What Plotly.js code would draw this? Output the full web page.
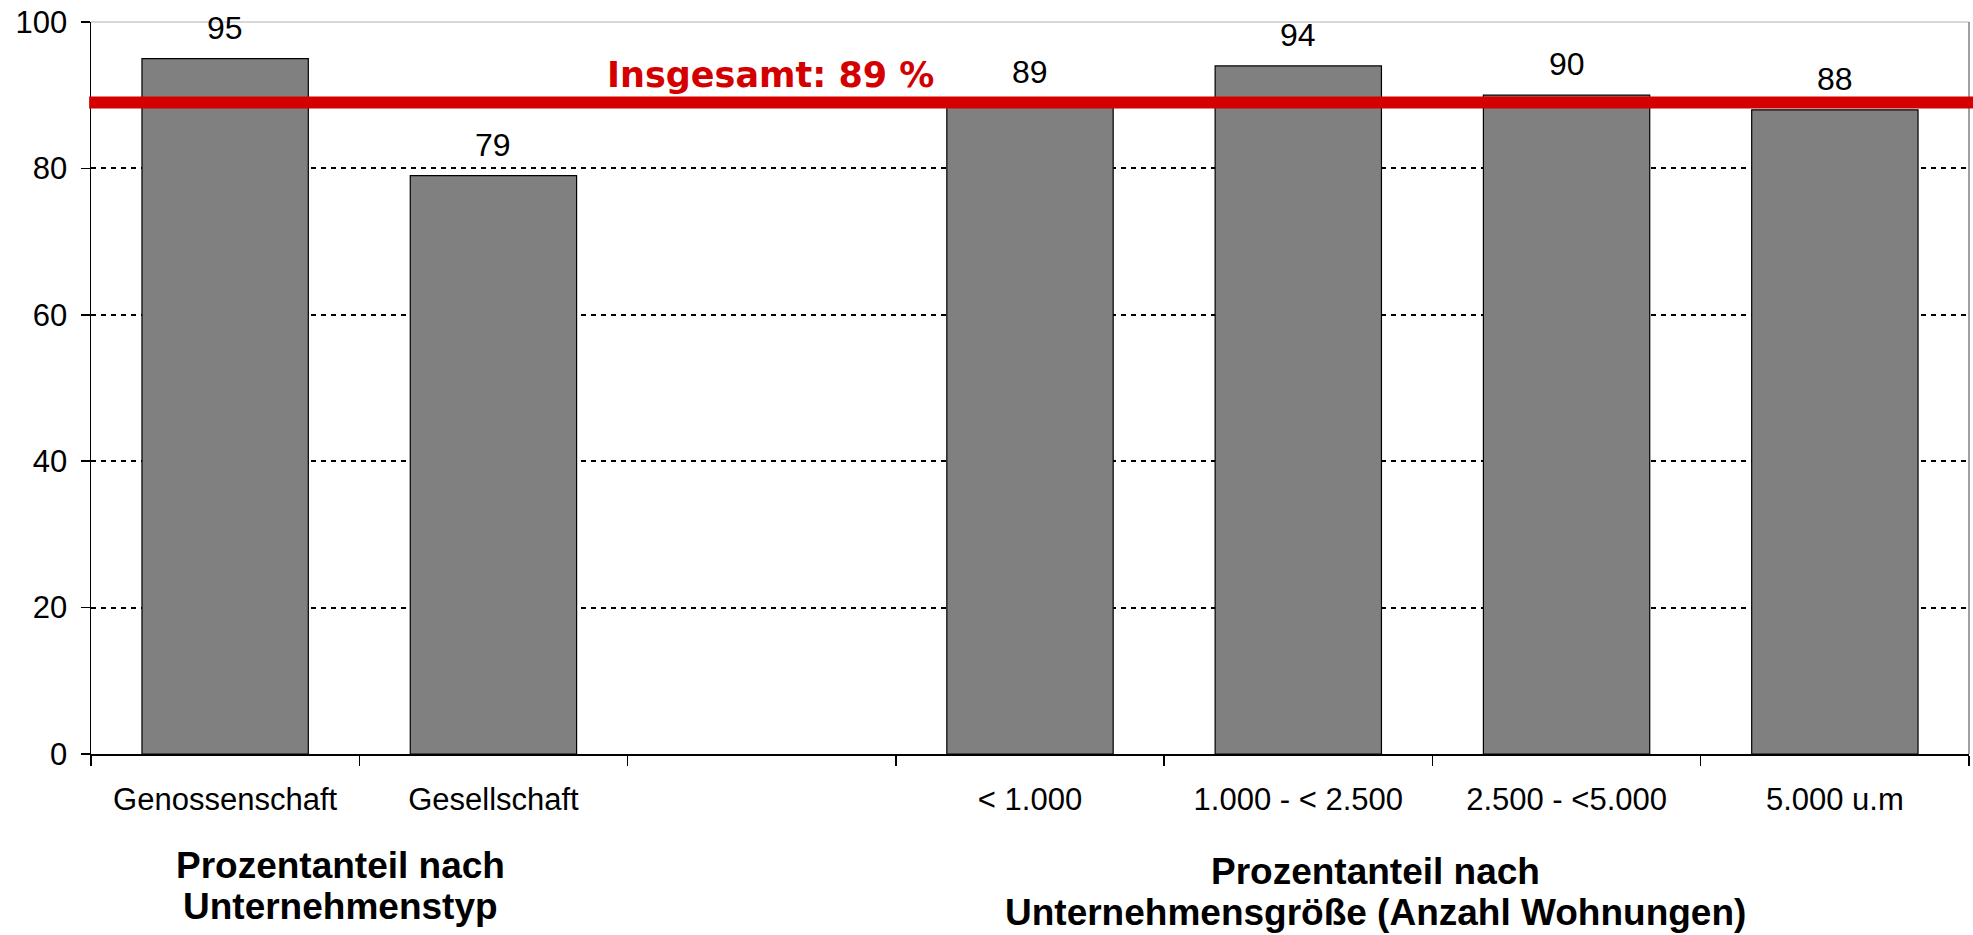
<!DOCTYPE html>
<html>
<head>
<meta charset="utf-8">
<script src="https://cdn.plot.ly/plotly-3.0.1.min.js"></script>
<style>
html,body{margin:0;padding:0;background:#fff;}
#chart{width:1973px;height:935px;}
</style>
</head>
<body>
<div id="chart"></div>
<script>
const categories = ["Genossenschaft", "Gesellschaft", " ", "< 1.000", "1.000 - < 2.500", "2.500 - <5.000", "5.000 u.m"];
const values = [95, 79, null, 89, 94, 90, 88];
const totalValue = 89;
const totalLabel = "Insgesamt: 89 %";
const yTicks = [0, 20, 40, 60, 80, 100];
const groupTitle1 = ["Prozentanteil nach", "Unternehmenstyp"];
const groupTitle2 = ["Prozentanteil nach", "Unternehmensgröße (Anzahl Wohnungen)"];

const font = "Liberation Sans, Arial, sans-serif";

const trace = {
  type: "bar",
  x: categories,
  y: values,
  marker: {color: "#808080", line: {color: "#000000", width: 1.2}},
  hoverinfo: "x+y",
  cliponaxis: false
};

const annotations = [];
categories.forEach((c, i) => {
  if (values[i] === null) return;
  annotations.push({
    x: c, y: values[i], xref: "x", yref: "y",
    text: String(values[i]), showarrow: false,
    yanchor: "bottom", yshift: 11,
    font: {family: font, size: 32, color: "#000"}
  });
});

annotations.push({
  xref: "paper", yref: "paper", x: 0.362, y: 0.927,
  text: "<b>" + totalLabel + "</b>", showarrow: false,
  xanchor: "center", yanchor: "middle",
  font: {family: "DejaVu Sans, Verdana, sans-serif", size: 35, color: "#d40000"}
});

const t1 = [[0.1326, -0.153], [0.1326, -0.2077]];
groupTitle1.forEach((t, i) => annotations.push({
  xref: "paper", yref: "paper", x: t1[i][0], y: t1[i][1],
  text: "<b>" + t + "</b>", showarrow: false, xanchor: "center", yanchor: "middle",
  font: {family: font, size: 37, color: "#000"}
}));
const t2 = [[0.684, -0.1600], [0.684, -0.2172]];
groupTitle2.forEach((t, i) => annotations.push({
  xref: "paper", yref: "paper", x: t2[i][0], y: t2[i][1],
  text: "<b>" + t + "</b>", showarrow: false, xanchor: "center", yanchor: "middle",
  font: {family: font, size: 37, color: "#000"}
}));

const layout = {
  width: 1973, height: 935,
  margin: {l: 91, r: 4, t: 22, b: 181, pad: 0},
  paper_bgcolor: "#ffffff", plot_bgcolor: "#ffffff",
  showlegend: false,
  bargap: 0.38,
  xaxis: {
    type: "category",
    range: [-0.5, 6.5],
    tickson: "boundaries",
    ticks: "outside", ticklen: 10, tickwidth: 1.5, tickcolor: "#000",
    showline: true, linecolor: "#000", linewidth: 1.5,
    showgrid: false, zeroline: false,
    tickfont: {family: font, size: 31, color: "#000"},
    ticklabelstandoff: 17,
    fixedrange: true
  },
  yaxis: {
    range: [0, 100],
    tickvals: yTicks,
    ticktext: yTicks.map(String),
    ticks: "outside", ticklen: 9, tickwidth: 1.5, tickcolor: "#000",
    showline: true, linecolor: "#000", linewidth: 1.5,
    showgrid: true, gridcolor: "#000", gridwidth: 2, griddash: "5px,5px",
    zeroline: false,
    tickfont: {family: font, size: 31, color: "#000"},
    ticklabelstandoff: 7,
    fixedrange: true
  },
  shapes: [
    {type: "line", xref: "paper", yref: "paper", x0: 1, x1: 1, y0: 0, y1: 1,
     line: {color: "#808080", width: 1.5}},
    {type: "line", xref: "paper", yref: "paper", x0: 0, x1: 1, y0: 1, y1: 1,
     line: {color: "#b0b0b0", width: 1}, layer: "below"},
    {type: "line", xref: "paper", yref: "y", x0: -0.001, x1: 1.003, y0: totalValue, y1: totalValue,
     line: {color: "#d40000", width: 12}, layer: "above"}
  ],
  annotations: annotations
};

Plotly.newPlot("chart", [trace], layout, {displayModeBar: false, staticPlot: true});
</script>
</body>
</html>
